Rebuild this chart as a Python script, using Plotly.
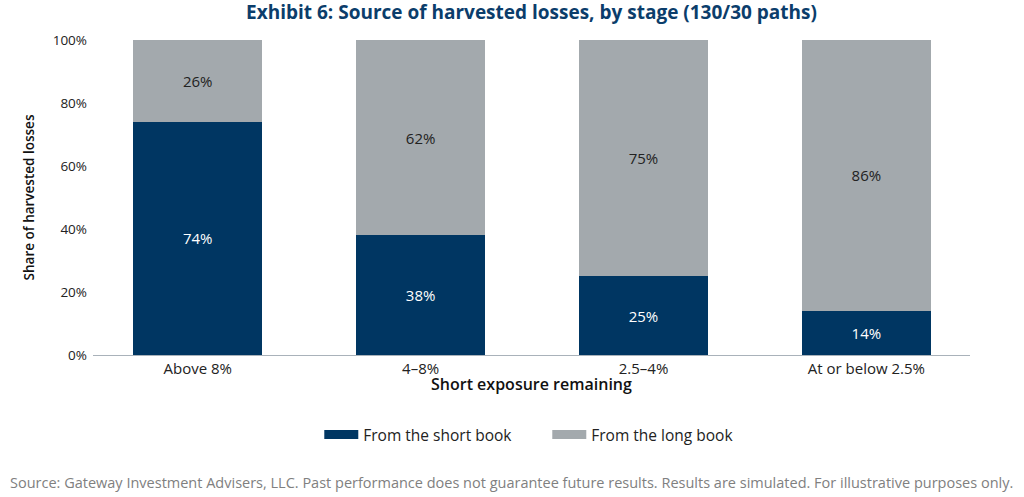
import plotly.graph_objects as go

stages = ["Above 8%", "4\u20138%", "2.5\u20134%", "At or below 2.5%"]
short_book = [74, 38, 25, 14]
long_book = [26, 62, 75, 86]

navy = "#003662"
gray = "#a3a9ad"
font = "Open Sans"

fig = go.Figure()
fig.add_trace(go.Bar(x=stages, y=short_book, name="From the short book",
                     marker=dict(color=navy, line=dict(width=0)),
                     text=[f"{v}%" for v in short_book], textposition="inside",
                     insidetextanchor="middle",
                     textfont=dict(color="white", size=15, family=font),
                     showlegend=False, hoverinfo="skip"))
fig.add_trace(go.Bar(x=stages, y=long_book, name="From the long book",
                     marker=dict(color=gray, line=dict(width=0)),
                     text=[f"{v}%" for v in long_book], textposition="inside",
                     insidetextanchor="middle",
                     textfont=dict(color="#222222", size=15, family=font),
                     showlegend=False, hoverinfo="skip"))

# wide legend swatches
for nm, col in [("From the short book", navy), ("From the long book", gray)]:
    fig.add_trace(go.Scatter(x=[None], y=[None], mode="lines", name=nm,
                             line=dict(color=col, width=9)))

fig.update_layout(
    width=1024, height=497,
    barmode="stack", bargap=0.422,
    plot_bgcolor="white", paper_bgcolor="white",
    margin=dict(l=93, r=54, t=40, b=142),
    font=dict(family=font, size=14, color="#222222"),
    title=dict(text="<b>Exhibit 6: Source of harvested losses, by stage (130/30 paths)</b>",
               x=0.5, xref="paper", xanchor="center", y=0.976, yanchor="middle",
               font=dict(size=19, color="#0b3d6b", family=font)),
    xaxis=dict(range=[-0.47, 3.465], showline=True, linecolor="#a9b2ba", linewidth=1,
               ticks="", tickfont=dict(size=15, color="#222222")),
    yaxis=dict(range=[0, 100], showgrid=False, zeroline=False, ticks="",
               tickvals=[0, 20, 40, 60, 80, 100],
               ticktext=["0%", "20%", "40%", "60%", "80%", "100%"],
               ticklabelstandoff=5,
               tickfont=dict(size=13.5, color="#222222"),
               title=dict(text="Share of harvested losses", standoff=14,
                          font=dict(size=13.5, color="#111111", weight=600))),
    legend=dict(orientation="h", x=0.518, xanchor="center", y=-0.254, yanchor="middle",
                font=dict(size=15.5, color="#222222"), entrywidth=179,
                entrywidthmode="pixels", itemwidth=34, traceorder="normal"),
)

fig.add_annotation(text="Short exposure remaining", xref="paper", yref="paper",
                   x=0.5, y=-0.092, xanchor="center", yanchor="middle", showarrow=False,
                   font=dict(size=16, color="#111111", family=font, weight=600))

fig.add_annotation(text="Source: Gateway Investment Advisers, LLC. Past performance does not guarantee future results. Results are simulated. For illustrative purposes only.",
                   xref="paper", yref="paper", x=-0.097, y=-0.406, xanchor="left", yanchor="middle",
                   showarrow=False, font=dict(size=14.5, color="#808080", family=font))

# drop the default 8px body margin so the figure sits at the window's corner
fig.write_html("out.html", config={"displayModeBar": False},
               post_script="document.body.style.margin='0';")
